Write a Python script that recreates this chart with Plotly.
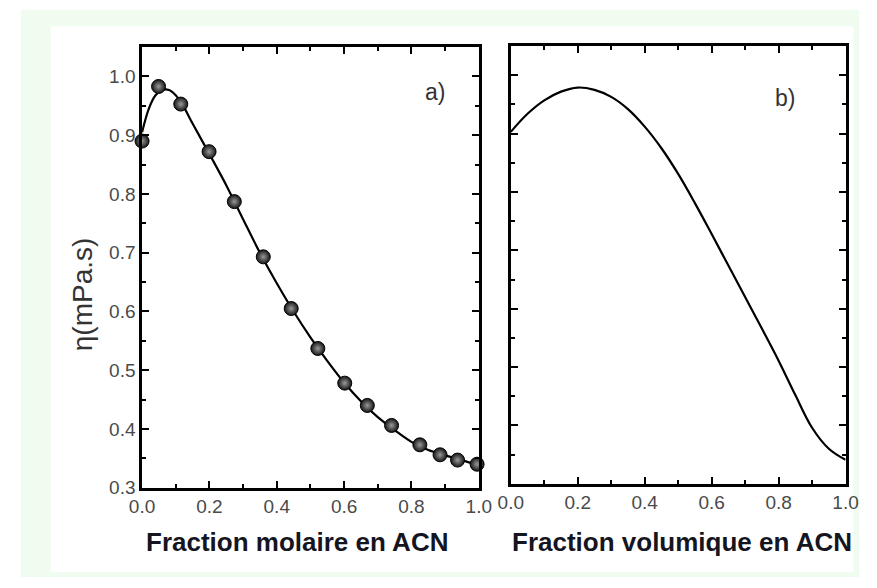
import plotly.graph_objects as go

W, H = 877, 588

# Measured viscosity of water/ACN mixtures vs mole fraction of ACN
mole_frac = [0.0, 0.049, 0.115, 0.199, 0.274, 0.36, 0.443, 0.522, 0.602, 0.669, 0.741, 0.825, 0.885, 0.937, 0.995]
visc_meas = [0.89, 0.983, 0.953, 0.872, 0.787, 0.693, 0.605, 0.537, 0.478, 0.44, 0.406, 0.373, 0.356, 0.347, 0.34]

# Fitted curve vs mole fraction
fit_x = [0.0, 0.02, 0.04, 0.06, 0.08, 0.10, 0.12, 0.15, 0.20, 0.25, 0.30, 0.35, 0.40, 0.45,
         0.50, 0.55, 0.60, 0.65, 0.70, 0.75, 0.80, 0.85, 0.90, 0.95, 1.00]
fit_y = [0.905, 0.945, 0.968, 0.977, 0.977, 0.968, 0.952, 0.92, 0.868, 0.815, 0.757, 0.70, 0.648, 0.600,
         0.556, 0.516, 0.479, 0.447, 0.420, 0.398, 0.378, 0.364, 0.355, 0.347, 0.338]

# Viscosity vs volume fraction of ACN
vol_x = [0.0, 0.05, 0.10, 0.15, 0.20, 0.25, 0.30, 0.35, 0.40, 0.45, 0.50, 0.55, 0.60, 0.65,
         0.70, 0.75, 0.80, 0.85, 0.90, 0.95, 1.00]
vol_y = [0.903, 0.934, 0.957, 0.972, 0.979, 0.975, 0.963, 0.942, 0.912, 0.875, 0.831, 0.781, 0.728, 0.674,
         0.620, 0.566, 0.511, 0.452, 0.396, 0.360, 0.341]

x_ticks = [0.0, 0.2, 0.4, 0.6, 0.8, 1.0]
y_ticks = [0.3, 0.4, 0.5, 0.6, 0.7, 0.8, 0.9, 1.0]


def fx(px):
    return px / W


def fy(py):
    return 1 - py / H


fig = go.Figure()

fig.add_trace(go.Scatter(x=fit_x, y=fit_y, mode="lines", line=dict(color="black", width=2.2, shape="spline"),
                         xaxis="x", yaxis="y", showlegend=False))
fig.add_trace(go.Scatter(x=mole_frac, y=visc_meas, mode="markers",
                         marker=dict(size=14, color="#151515", gradient=dict(type="radial", color="#9a9a9a"),
                                     line=dict(color="black", width=1)),
                         xaxis="x", yaxis="y", showlegend=False, cliponaxis=False))
fig.add_trace(go.Scatter(x=vol_x, y=vol_y, mode="lines", line=dict(color="black", width=2.2, shape="spline"),
                         xaxis="x2", yaxis="y2", showlegend=False))

tick_font = dict(family="Liberation Sans, Arial, sans-serif", size=19, color="#4a4a4a")
common = dict(showline=True, linewidth=2.5, linecolor="black", mirror="ticks", ticks="inside",
              ticklen=7, tickwidth=2, tickcolor="black", showgrid=False, zeroline=False, tickfont=tick_font)

fig.update_layout(
    width=W, height=H,
    margin=dict(l=0, r=0, t=0, b=0),
    paper_bgcolor="white", plot_bgcolor="white",
    xaxis=dict(domain=[fx(133), fx(480)], range=[0, 1], anchor="y", tickvals=x_ticks, tickformat=".1f",
               minor=dict(ticks="inside", ticklen=4, tickwidth=2, tickcolor="black", dtick=0.1),
               **common),
    yaxis=dict(domain=[fy(497), fy(48)], range=[0.3, 1.05], anchor="x", tickvals=y_ticks, tickformat=".1f",
               minor=dict(ticks="inside", ticklen=4, tickwidth=2, tickcolor="black", dtick=0.05),
               **common),
    xaxis2=dict(domain=[fx(513), fx(858)], range=[0, 1], anchor="y2", tickvals=x_ticks, tickformat=".1f",
                minor=dict(ticks="inside", ticklen=4, tickwidth=2, tickcolor="black", dtick=0.1),
                **common),
    yaxis2=dict(domain=[fy(493), fy(47)], range=[0.3, 1.05], anchor="x2", tickvals=y_ticks,
                showticklabels=False,
                minor=dict(ticks="inside", ticklen=4, tickwidth=2, tickcolor="black", dtick=0.05),
                **common),
    shapes=[
        dict(type="rect", xref="paper", yref="paper", x0=fx(8), x1=fx(872), y0=fy(588), y1=fy(10),
             fillcolor="#f1fcf1", line=dict(width=0), layer="below"),
        dict(type="rect", xref="paper", yref="paper", x0=fx(39), x1=fx(866), y0=fy(583), y1=fy(27),
             fillcolor="white", line=dict(width=0), layer="below"),
    ],
)

title_font = dict(family="Liberation Sans, Arial, sans-serif", size=26, color="#15151f")
fig.add_annotation(x=fx(293), y=fy(552), xref="paper", yref="paper", text="<b>Fraction molaire en ACN</b>",
                   showarrow=False, font=title_font, xanchor="center", yanchor="middle")
fig.add_annotation(x=fx(689), y=fy(552), xref="paper", yref="paper", text="<b>Fraction volumique en ACN</b>",
                   showarrow=False, font=title_font, xanchor="center", yanchor="middle")
fig.add_annotation(x=fx(72), y=fy(300), xref="paper", yref="paper", text="η(mPa.s)", textangle=-90,
                   showarrow=False, font=dict(family="Liberation Sans, Arial, sans-serif", size=28, color="#333333"),
                   xanchor="center", yanchor="middle")
fig.add_annotation(x=fx(435), y=fy(78), xref="paper", yref="paper", text="a)", showarrow=False,
                   font=dict(family="Liberation Sans, Arial, sans-serif", size=23, color="#333333"))
fig.add_annotation(x=fx(808), y=fy(85), xref="paper", yref="paper", text="b)", showarrow=False,
                   font=dict(family="Liberation Sans, Arial, sans-serif", size=23, color="#333333"))

fig.write_html("out.html")
